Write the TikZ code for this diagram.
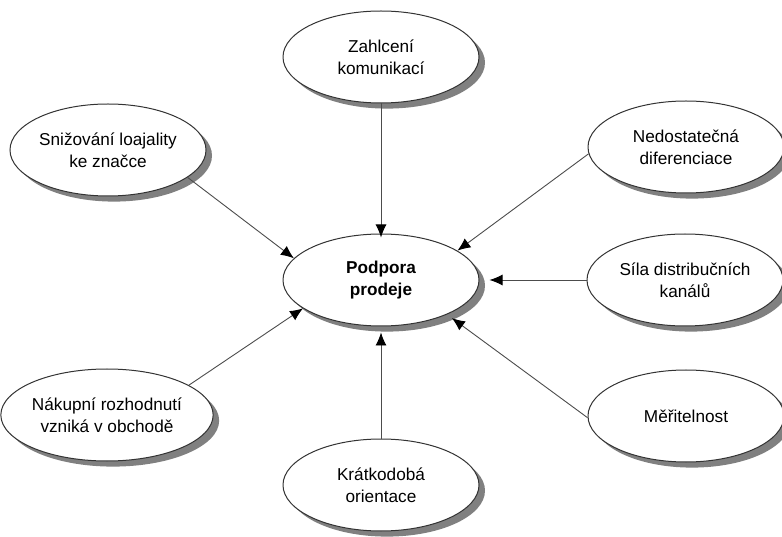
\documentclass[tikz,border=0pt]{standalone}
\usepackage{fontspec}
\setmainfont{Liberation Sans}
\usetikzlibrary{shapes.geometric,shadows,arrows.meta}

\tikzset{
  bubble/.style={ellipse, draw=black!80, line width=0.5pt, fill=white,
    minimum width=98pt, minimum height=46pt, inner sep=0pt, align=center,
    font=\fontsize{8.6}{11}\selectfont,
    drop shadow={shadow xshift=3pt, shadow yshift=-2.8pt, fill=black!50, opacity=1}},
  sipka/.style={draw=black!70, line width=0.45pt, -{Latex[length=6.5pt,width=5.5pt,color=black]}}
}

\begin{document}
\begin{tikzpicture}[x=0.5pt,y=0.5pt]
	\useasboundingbox (0,0) rectangle (782,536);
	% okolni faktory
	\node[bubble] (zahl) at (381,479) {Zahlcení\\komunikací};
	\node[bubble] (snizo) at (108,386) {Snižování loajality\\ke značce};
	\node[bubble] (nedost) at (686,389) {Nedostatečná\\diferenciace};
	\node[bubble] (sila) at (685,256) {Síla distribučních\\kanálů};
	\node[bubble] (nakup) at (107,121) {Nákupní rozhodnutí\\vzniká v obchodě};
	\node[bubble] (merit) at (686,120) {Měřitelnost};
	\node[bubble] (kratk) at (381,51) {Krátkodobá\\orientace};
	% stred
	\node[bubble, font=\fontsize{8.6}{11}\selectfont\bfseries] (podp) at (381,256) {Podpora\\prodeje};
	%
	\draw[sipka] (zahl.south) -- ([yshift=-2pt]podp.north);
	\draw[sipka] (snizo.-19) -- (podp.166);
	\draw[sipka] (nedost.-176) -- (podp.21);
	\draw[sipka] (sila.west) -- ([xshift=5pt]podp.east);
	\draw[sipka] (merit.-179) -- ([shift={(2pt,-2pt)}]podp.-27);
	\draw[sipka] (nakup.20) -- (podp.-160);
	\draw[sipka] (kratk.north) -- ([yshift=-3pt]podp.south);
\end{tikzpicture}
\end{document}
